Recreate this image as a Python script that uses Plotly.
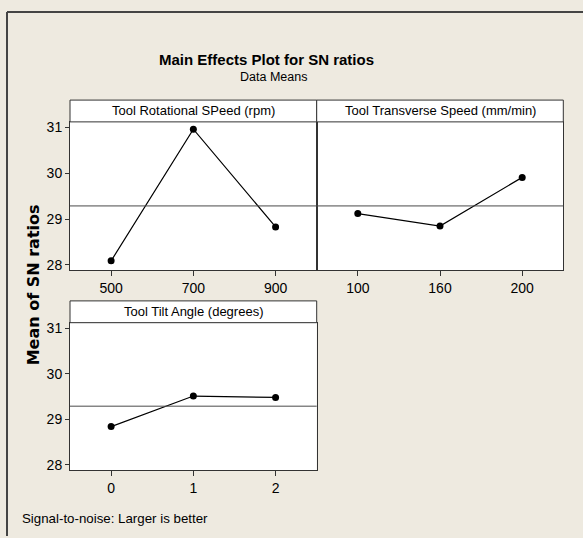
import plotly.graph_objects as go

# ---- data ----
speed_levels = ["500", "700", "900"]
speed_sn = [28.09, 30.96, 28.83]
transverse_levels = ["100", "160", "200"]
transverse_sn = [29.12, 28.85, 29.91]
tilt_levels = ["0", "1", "2"]
tilt_sn = [28.84, 29.51, 29.48]
panel_titles = ["Tool Rotational SPeed (rpm)", "Tool Transverse Speed (mm/min)", "Tool Tilt Angle (degrees)"]
y_ticks = [28, 29, 30, 31]

W, H = 583, 538
BG = "#EEEAE0"
SANS = "Liberation Sans, Arial, sans-serif"

def px(x): return x / W
def py(y): return 1 - y / H

grand_mean = sum(speed_sn + transverse_sn + tilt_sn) / 9.0

# panel pixel boxes: (x0, x1, ytop, ybottom)
panels = [(70, 316.7, 120, 270), (316.7, 563.3, 120, 270), (70, 316.7, 322.7, 471.7)]
header_h = 22

fig = go.Figure()
series = [(speed_levels, speed_sn), (transverse_levels, transverse_sn), (tilt_levels, tilt_sn)]
for i, (lv, vals) in enumerate(series):
    sfx = "" if i == 0 else str(i + 1)
    fig.add_trace(go.Scatter(x=lv, y=vals, mode="lines+markers",
                             xaxis="x" + sfx, yaxis="y" + sfx,
                             line=dict(color="black", width=1.2),
                             marker=dict(color="black", size=7),
                             showlegend=False, hoverinfo="x+y"))

layout = dict(width=W, height=H, margin=dict(l=0, r=0, t=0, b=0),
              paper_bgcolor=BG, plot_bgcolor="white",
              font=dict(family=SANS, size=13, color="black"))
shapes = []
annotations = []
tickfont = dict(family=SANS, size=14, color="black")
for i, (x0, x1, yt, yb) in enumerate(panels):
    sfx = "" if i == 0 else str(i + 1)
    xa = "xaxis" + sfx
    ya = "yaxis" + sfx
    layout[xa] = dict(domain=[px(x0), px(x1)], anchor="y" + sfx, type="category",
                      range=[-0.5, 2.5], showline=True, mirror=True, linecolor="#333", linewidth=1,
                      ticks="outside", ticklen=5, tickcolor="#333", showgrid=False, zeroline=False,
                      tickfont=tickfont, fixedrange=True)
    layout[ya] = dict(domain=[py(yb), py(yt)], anchor="x" + sfx, range=[27.88, 31.12],
                      tickvals=y_ticks, showline=True, mirror=True, linecolor="#333", linewidth=1,
                      ticks="outside" if i != 1 else "", ticklen=4, tickcolor="#333",
                      showticklabels=(i != 1), showgrid=False, zeroline=False,
                      tickfont=tickfont, fixedrange=True)
    # mean reference line
    shapes.append(dict(type="line", xref="x" + sfx + " domain", yref="y" + sfx,
                       x0=0, x1=1, y0=grand_mean, y1=grand_mean,
                       line=dict(color="#4a4a4a", width=1)))
    # header box
    shapes.append(dict(type="rect", xref="paper", yref="paper",
                       x0=px(x0), x1=px(x1), y0=py(yt), y1=py(yt - header_h),
                       fillcolor="white", line=dict(color="#333", width=1)))
    annotations.append(dict(text=panel_titles[i], xref="paper", yref="paper",
                            x=px((x0 + x1) / 2), y=py(yt - header_h / 2),
                            showarrow=False, xanchor="center", yanchor="middle",
                            font=dict(family=SANS, size=13, color="black")))

# outer frame (top and left edges)
shapes.append(dict(type="line", xref="paper", yref="paper", x0=px(7), x1=1, y0=py(9), y1=py(9),
                   line=dict(color="#444", width=2)))
shapes.append(dict(type="line", xref="paper", yref="paper", x0=px(7), x1=px(7), y0=0, y1=py(9),
                   line=dict(color="#444", width=2)))

annotations += [
    dict(text="<b>Main Effects Plot for SN ratios</b>", xref="paper", yref="paper",
         x=px(266), y=py(57), showarrow=False, xanchor="center", yanchor="middle",
         font=dict(family=SANS, size=15, color="black")),
    dict(text="Data Means", xref="paper", yref="paper",
         x=px(273), y=py(75), showarrow=False, xanchor="center", yanchor="middle",
         font=dict(family=SANS, size=12.5, color="black")),
    dict(text="<b>Mean of SN ratios</b>", xref="paper", yref="paper",
         x=px(33), y=py(285), showarrow=False, textangle=-90, xanchor="center", yanchor="middle",
         font=dict(family="DejaVu Sans, Verdana, sans-serif", size=16, color="black")),
    dict(text="Signal-to-noise: Larger is better", xref="paper", yref="paper",
         x=px(20), y=py(520), showarrow=False, xanchor="left", yanchor="middle",
         font=dict(family=SANS, size=13.3, color="black")),
]
layout["shapes"] = shapes
layout["annotations"] = annotations
fig.update_layout(**layout)
fig.write_html("out.html", config={"displayModeBar": False},
               post_script="document.body.style.margin='0px';")
